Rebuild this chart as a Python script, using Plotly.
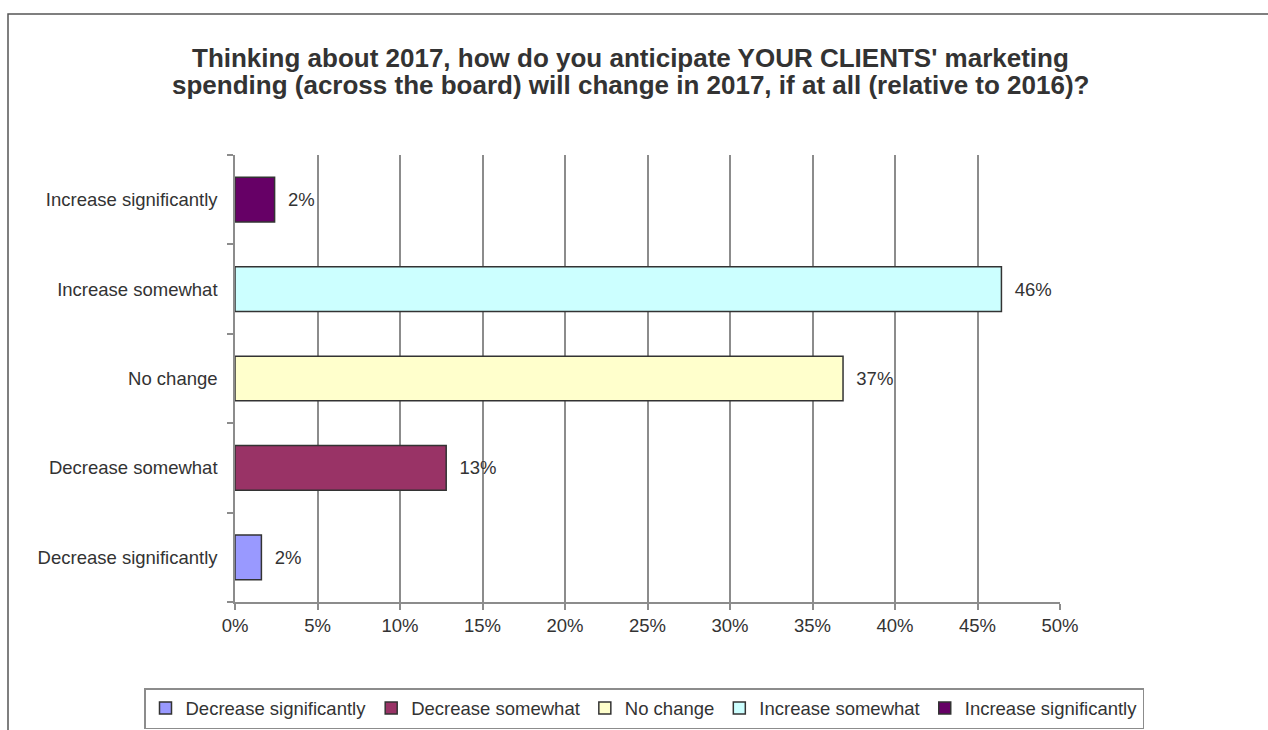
import plotly.graph_objects as go

# Survey answers, listed bottom-to-top on the chart
categories = [
    "Decrease significantly",
    "Decrease somewhat",
    "No change",
    "Increase somewhat",
    "Increase significantly",
]
shares = [1.6, 12.8, 36.85, 46.45, 2.4]
colors = ["#9999FF", "#993366", "#FFFFCC", "#CCFFFF", "#660066"]

x_ticks = list(range(0, 55, 5))

title_lines = [
    "Thinking about 2017, how do you anticipate YOUR CLIENTS' marketing",
    "spending (across the board) will change in 2017, if at all (relative to 2016)?",
]

TEXT = "#333333"
GRID = "#8c8c8c"
FONT = "Liberation Sans, Arial, sans-serif"
FS = 18.5

fig = go.Figure()
for cat, val, col in zip(categories, shares, colors):
    fig.add_trace(go.Bar(
        y=[cat], x=[val], name=cat, orientation="h",
        marker=dict(color=col, line=dict(color="#333333", width=1.5)),
        width=0.5,
        texttemplate="\u00a0\u00a0%{x:.0f}%",
        textposition="outside",
        textfont=dict(size=FS, color=TEXT, family=FONT),
        cliponaxis=False,
        hoverinfo="skip",
    ))

# plot-area geometry in pixels (used for the frame, title and legend in paper units)
L, R, T, B = 235, 1060, 155, 602
W, H = R - L, B - T


def px_x(p):
    return (p - L) / W


def px_y(p):
    return (B - p) / H


title_ann = [
    dict(text=line, xref="paper", yref="paper", x=px_x(630), y=px_y(yc),
         xanchor="center", yanchor="middle", showarrow=False,
         font=dict(size=26, color=TEXT, family=FONT, weight="bold"))
    for line, yc in zip(title_lines, [57.5, 85])
]

fig.update_layout(
    width=1268, height=730,
    margin=dict(l=L, r=1268 - R, t=T, b=730 - B, autoexpand=False),
    paper_bgcolor="white", plot_bgcolor="white",
    barmode="overlay",
    showlegend=True,
    font=dict(family=FONT, size=FS, color=TEXT),
    annotations=title_ann,
    xaxis=dict(
        range=[0, 50], tickvals=x_ticks, ticktext=[f"{v}%" for v in x_ticks],
        showgrid=True, gridcolor=GRID, gridwidth=1.5,
        showline=True, linecolor=GRID, linewidth=1.5,
        ticks="outside", ticklen=6, tickcolor=GRID, tickwidth=1.5,
        tickfont=dict(size=FS, color=TEXT), zeroline=False, fixedrange=True,
    ),
    yaxis=dict(
        categoryorder="array", categoryarray=categories, range=[-0.5, 4.5],
        showgrid=False, showline=True, linecolor=GRID, linewidth=1.5,
        ticks="outside", tickson="boundaries", ticklen=6, tickcolor=GRID, tickwidth=1.5,
        tickfont=dict(size=FS, color=TEXT), ticklabelstandoff=12, fixedrange=True,
    ),
    legend=dict(
        orientation="h", xref="paper", x=px_x(144), xanchor="left",
        yref="paper", y=px_y(688), yanchor="top",
        bordercolor="#8c8c8c", borderwidth=1.5, bgcolor="white",
        font=dict(size=FS, color=TEXT), traceorder="normal",
        itemwidth=30, itemclick=False, itemdoubleclick=False,
    ),
    shapes=[
        dict(type="path", xref="paper", yref="paper",
             path=f"M {px_x(8)} {px_y(740)} L {px_x(8)} {px_y(14)} L {px_x(1280)} {px_y(14)}",
             line=dict(color="#555555", width=1.5), layer="above"),
    ],
)

fig.write_html("out.html")
